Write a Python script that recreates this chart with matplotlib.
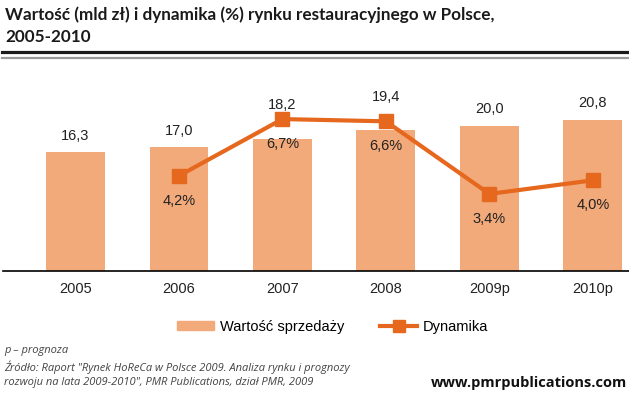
import matplotlib.pyplot as plt
from matplotlib.lines import Line2D
from matplotlib.patches import Patch

years = ['2005', '2006', '2007', '2008', '2009p', '2010p']
sales = [16.3, 17.0, 18.2, 19.4, 20.0, 20.8]
dyn_years = ['2006', '2007', '2008', '2009p', '2010p']
dynamics = [4.2, 6.7, 6.6, 3.4, 4.0]

sales_labels = ['16,3', '17,0', '18,2', '19,4', '20,0', '20,8']
dyn_labels = ['4,2%', '6,7%', '6,6%', '3,4%', '4,0%']

bar_color = '#F2AA7A'
line_color = '#E6681F'

plt.rcParams['font.family'] = ['Liberation Sans', 'DejaVu Sans']

fig = plt.figure(figsize=(6.29, 3.98), dpi=100)
ax = fig.add_axes([0.005, 0.319, 0.995, 0.530])

x = list(range(len(years)))
ax.bar(x, sales, width=0.57, color=bar_color, zorder=1)
ax.set_xlim(-0.7, 5.35)
ax.set_ylim(0, 29)

# extra lift for labels that would sit on the line
lift = [0, 0, 12, 12, 0, 0]
for xi, v, lab, extra in zip(x, sales, sales_labels, lift):
    ax.annotate(lab, (xi, v), xytext=(0, 12 + extra), textcoords='offset points',
                ha='center', va='center', fontsize=10.5, color='#222222')

for s in ['top', 'right', 'left']:
    ax.spines[s].set_visible(False)
ax.spines['bottom'].set_linewidth(1.2)
ax.set_yticks([])
ax.set_xticks(x)
ax.set_xticklabels(years, fontsize=10.5, color='#222222')
ax.tick_params(axis='x', length=0, pad=8)

ax2 = ax.twinx()
dx = [years.index(y) for y in dyn_years]
ax2.plot(dx, dynamics, color=line_color, lw=3, marker='s', ms=10, zorder=3)
ax2.set_ylim(0, 9.3)
ax2.axis('off')
for xi, v, lab in zip(dx, dynamics, dyn_labels):
    ax2.annotate(lab, (xi, v), xytext=(0, -18), textcoords='offset points',
                 ha='center', va='center', fontsize=10.5, color='#222222')

# title and rules
fig.text(0.008, 0.963, 'Wartość (mld zł) i dynamika (%) rynku restauracyjnego w Polsce,',
         fontsize=12.3, fontweight='bold', family='Lato', va='center', color='#1a1a1a')
fig.text(0.008, 0.907, '2005-2010', fontsize=12.3, fontweight='bold', family='Lato',
         va='center', color='#1a1a1a')
fig.add_artist(Line2D([0.003, 1], [1 - 52 / 398] * 2, color='#1a1a1a', lw=2.3))
fig.add_artist(Line2D([0.003, 1], [1 - 58 / 398] * 2, color='#999999', lw=1.6))

handles = [Patch(color=bar_color, label='Wartość sprzedaży'),
           Line2D([], [], color=line_color, lw=3, marker='s', ms=8, label='Dynamika')]
fig.legend(handles=handles, loc='center', bbox_to_anchor=(0.529, 1 - 327 / 398), ncol=2,
           frameon=False, fontsize=10.5, handlelength=2.5, handleheight=0.55,
           columnspacing=2.5, handletextpad=0.4)

foot = ['p – prognoza',
        'Źródło: Raport "Rynek HoReCa w Polsce 2009. Analiza rynku i prognozy',
        'rozwoju na lata 2009-2010", PMR Publications, dział PMR, 2009']
for i, line in enumerate(foot):
    fig.text(0.006, 1 - (351 + 16 * i) / 398, line, fontsize=8, style='italic',
             family='Open Sans', color='#444444', va='center')
fig.text(0.997, 1 - 383 / 398, 'www.pmrpublications.com', fontsize=10.5, fontweight='bold',
         family='Open Sans', ha='right', va='center', color='#111111')

fig.savefig('out.png', dpi=100)
